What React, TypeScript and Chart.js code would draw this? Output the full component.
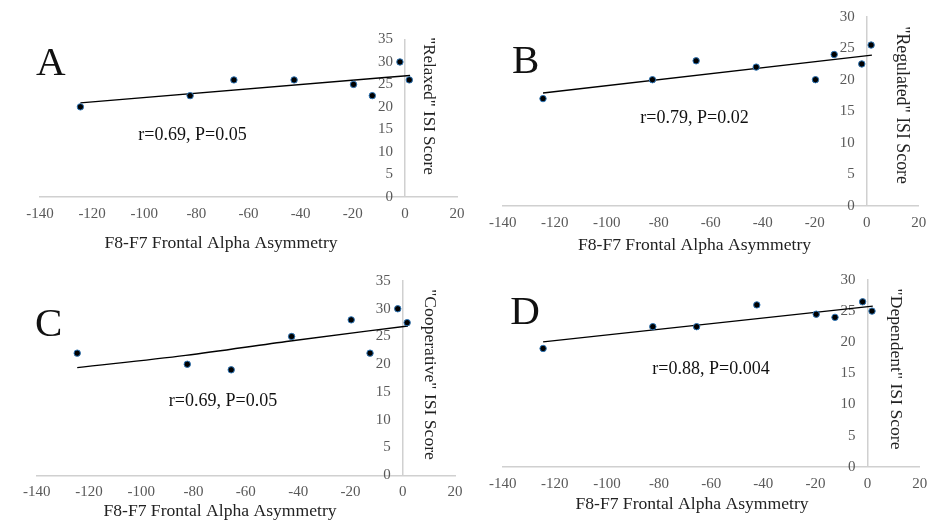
import React, { useEffect, useRef } from "react";
import { Chart, registerables } from "chart.js";

Chart.register(...registerables);

const FONT = "'Liberation Serif', 'Times New Roman', Times, serif";

// ---- data ----
const asymmetry = [-124.5, -82.4, -65.6, -42.5, -19.7, -12.5, -1.9, 1.7];

const relaxedScores = [20, 22.5, 26, 26, 25, 22.5, 30, 26];
const regulatedScores = [17, 20, 23, 22, 20, 24, 22.5, 25.5];
const cooperativeScores = [22, 20, 19, 25, 28, 22, 30, 27.5];
const dependentScores = [19, 22.5, 22.5, 26, 24.5, 24, 26.5, 25];

const linearTrendX = [-124.5, 2];
const relaxedTrend = [20.9, 27.0];
const regulatedTrend = [17.9, 23.9];
const cooperativeTrendX = [-124.5, -83, -43, 2];
const cooperativeTrend = [19.4, 21.6, 24.2, 26.9];
const dependentTrend = [20.05, 25.8];

const xTickRange = [-140, 20];
const yMaxes = [35, 30, 35, 30];

const panelLetters = ["A", "B", "C", "D"];
const yTitles = ['"Relaxed" ISI Score', '"Regulated" ISI Score', '"Cooperative" ISI Score', '"Dependent" ISI Score'];
const xTitle = "F8-F7 Frontal Alpha Asymmetry";
const statLabels = ["r=0.69, P=0.05", "r=0.79, P=0.02", "r=0.69, P=0.05", "r=0.88, P=0.004"];

// ---- layout (positions/styles only) ----
const W = 467;
const H = 261;
const X_AXIS_H = 40;
const Y_LABEL_GAP = 4.6; // in x units (~12px) between tick labels and the y axis line
const panels = [
  {
    left: 0, top: 0, ys: relaxedScores, tx: linearTrendX, ty: relaxedTrend, curve: false,
    area: { l: 40, r: 457, t: 39.5, b: 196.7 }, yTitleSize: 17,
    letter: { x: 36, y: 75 }, yTitle: { x: 428, y: 106 }, xTitlePos: { x: 221, y: 243 }, stat: { x: 192.5, y: 135 },
  },
  {
    left: 467, top: 0, ys: regulatedScores, tx: linearTrendX, ty: regulatedTrend, curve: false,
    area: { l: 35.7, r: 451.7, t: 16.7, b: 205.7 }, yTitleSize: 17.8,
    letter: { x: 45, y: 73 }, yTitle: { x: 435, y: 105 }, xTitlePos: { x: 227.5, y: 245 }, stat: { x: 227.5, y: 118.3 },
  },
  {
    left: 0, top: 261, ys: cooperativeScores, tx: cooperativeTrendX, ty: cooperativeTrend, curve: true,
    area: { l: 36.7, r: 455, t: 20, b: 214.3 }, yTitleSize: 17.6,
    letter: { x: 35, y: 75 }, yTitle: { x: 430, y: 113.5 }, xTitlePos: { x: 220, y: 250 }, stat: { x: 223, y: 140 },
  },
  {
    left: 467, top: 261, ys: dependentScores, tx: linearTrendX, ty: dependentTrend, curve: false,
    area: { l: 35.7, r: 452.7, t: 19, b: 205.7 }, yTitleSize: 17.6,
    letter: { x: 43.3, y: 63.3 }, yTitle: { x: 428.3, y: 108 }, xTitlePos: { x: 225, y: 243.3 }, stat: { x: 244, y: 108.3 },
  },
];

const textPlugin = {
  id: "panelText",
  afterDraw(chart: any, _args: any, opts: any) {
    const ctx = chart.ctx;
    ctx.save();
    ctx.fillStyle = "#111";
    ctx.font = `41px ${FONT}`;
    ctx.textAlign = "left";
    ctx.textBaseline = "alphabetic";
    ctx.fillText(opts.letter, opts.letterPos.x, opts.letterPos.y);
    ctx.font = `18px ${FONT}`;
    ctx.textAlign = "center";
    ctx.textBaseline = "middle";
    ctx.fillText(opts.stat, opts.statPos.x, opts.statPos.y);
    ctx.fillStyle = "#222";
    ctx.font = `17.6px ${FONT}`;
    ctx.fillText(opts.xTitle, opts.xTitlePos.x, opts.xTitlePos.y);
    ctx.font = `${opts.yTitleSize}px ${FONT}`;
    ctx.translate(opts.yTitlePos.x, opts.yTitlePos.y);
    ctx.rotate(Math.PI / 2);
    ctx.fillText(opts.yTitle, 0, 0);
    ctx.restore();
  },
};

function Panel({ idx }: { idx: number }) {
  const ref = useRef<HTMLCanvasElement | null>(null);
  const p = panels[idx];
  useEffect(() => {
    if (!ref.current) return;
    const axisColor = "#d0d0d0";
    const tickFont = { family: FONT, size: 15 };
    const chart = new Chart(ref.current, {
      type: "scatter",
      data: {
        datasets: [
          {
            data: asymmetry.map((x, i) => ({ x, y: p.ys[i] })),
            pointRadius: 3.2,
            pointBackgroundColor: "#000",
            pointBorderColor: "#2e75b6",
            pointBorderWidth: 1,
            showLine: false,
            order: 0,
          },
          {
            data: p.tx.map((x, i) => ({ x, y: p.ty[i] })),
            showLine: true,
            pointRadius: 0,
            borderColor: "#000",
            borderWidth: 1.4,
            tension: p.curve ? 0.4 : 0,
            cubicInterpolationMode: "monotone",
            order: 1,
          },
        ],
      } as any,
      options: {
        animation: false,
        responsive: false,
        events: [],
        layout: {
          padding: { left: p.area.l, right: W - p.area.r, top: p.area.t, bottom: H - p.area.b - X_AXIS_H },
        },
        plugins: {
          legend: { display: false },
          tooltip: { enabled: false },
          panelText: {
            letter: panelLetters[idx],
            letterPos: p.letter,
            stat: statLabels[idx],
            statPos: p.stat,
            xTitle,
            xTitlePos: p.xTitlePos,
            yTitle: yTitles[idx],
            yTitlePos: p.yTitle,
            yTitleSize: p.yTitleSize,
          },
        } as any,
        scales: {
          x: {
            type: "linear",
            min: xTickRange[0],
            max: xTickRange[1],
            position: "bottom",
            grid: { display: false, drawTicks: true, tickLength: 6 },
            border: { display: true, color: axisColor, width: 1.5 },
            ticks: { stepSize: 20, padding: 2, color: "#595959", font: tickFont, maxRotation: 0, autoSkip: false },
            afterFit: (s: any) => {
              s.height = X_AXIS_H;
            },
          },
          y: {
            type: "linear",
            min: 0,
            max: yMaxes[idx],
            position: { x: 0 } as any,
            grid: { display: false, drawTicks: false },
            border: { display: true, color: axisColor, width: 1.5 },
            ticks: { display: false, stepSize: 5 },
          },
          yLabels: {
            type: "linear",
            axis: "y",
            min: 0,
            max: yMaxes[idx],
            position: { x: -Y_LABEL_GAP } as any,
            grid: { display: false, drawTicks: false },
            border: { display: false },
            ticks: { stepSize: 5, padding: 0, color: "#595959", font: tickFont },
          },
        },
      } as any,
      plugins: [textPlugin],
    });
    return () => chart.destroy();
  }, []);
  return (
    <canvas
      ref={ref}
      width={W}
      height={H}
      style={{ position: "absolute", left: p.left, top: p.top, width: W, height: H }}
    />
  );
}

export default function App() {
  return (
    <div style={{ position: "absolute", left: 0, top: 0, width: 934, height: 522, background: "#fff", overflow: "hidden" }}>
      {panels.map((_, i) => (
        <Panel key={i} idx={i} />
      ))}
    </div>
  );
}
